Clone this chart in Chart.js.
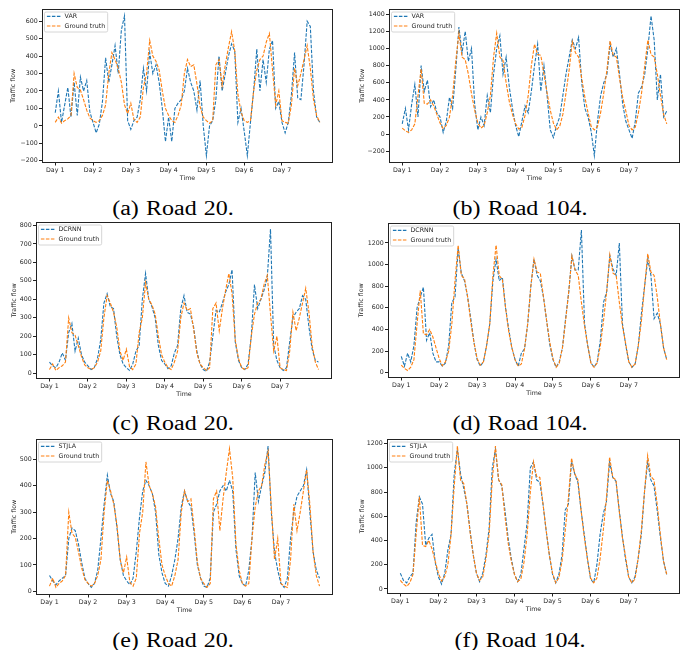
<!DOCTYPE html>
<html>
<head>
<meta charset="utf-8">
<script src="https://cdn.jsdelivr.net/npm/chart.js@4.4.0/dist/chart.umd.min.js"></script>
<style>
  body { margin: 0; background: #fff; }
  #fig { position: relative; width: 685px; height: 650px; overflow: hidden; }
  .panel { position: absolute; }
  .caption {
    position: absolute;
    font-family: 'Liberation Serif', 'Times New Roman', serif;
    font-size: 20px;
    line-height: 20px;
    word-spacing: 1px;
    transform: translateX(-50%) scaleX(1.2);
    white-space: nowrap;
    color: #000;
  }
</style>
</head>
<body>
<div id="fig"></div>
<script>
// samples per day (one every 2 hours), x runs from Day 1 (0) to 7
const PER_DAY = 12;
const dayTicks = [0, 1, 2, 3, 4, 5, 6];
const dayLabels = ['Day 1', 'Day 2', 'Day 3', 'Day 4', 'Day 5', 'Day 6', 'Day 7'];

// Road 20
const road20Truth = [
  20, 50, 15, 30, 40, 60, 300, 220, 205, 150, 90, 45,
  30, 20, 30, 60, 120, 300, 420, 380, 330, 250, 120, 70,
  130, 35, 20, 50, 220, 300, 490, 400, 370, 320, 200, 100,
  60, 30, 20, 60, 120, 300, 380, 340, 350, 240, 110, 50,
  30, 15, 30, 350, 380, 230, 350, 450, 540, 430, 180, 80,
  30, 20, 30, 200, 320, 380, 400, 480, 530, 320, 120, 200,
  30, 20, 15, 120, 330, 230, 300, 380, 460, 330, 150, 60,
  20
];
const road20Var = [
  75, 200, 20, 120, 220, 50, 250, 60, 280, 200, 260, 80,
  20, -40, 10, 140, 390, 250, 350, 460, 300, 550, 630, 30,
  -20, 30, 50, 150, 330, 200, 420, 300, 350, 250, 100, -90,
  50, -90, 100, 130, 150, 200, 330, 250, 200, 90, 260, 0,
  -170, 0, 30, 150, 400, 200, 300, 400, 470, 430, 20, 100,
  -30, -170, 20, 200, 440, 200, 380, 250, 440, 490, 100, 140,
  20, -40, 20, 180, 420, 160, 150, 350, 600, 570, 200, 50,
  20
];
const road20Dcrnn = [
  60, 40, 30, 60, 110, 70, 220, 270, 120, 190, 100, 60,
  40, 20, 30, 80, 180, 380, 430, 360, 350, 200, 100, 50,
  30, 15, 50, 120, 150, 400, 540, 400, 360, 300, 150, 70,
  50, 25, 40, 110, 150, 350, 420, 330, 320, 250, 120, 50,
  20, 10, 60, 200, 340, 330, 380, 440, 480, 560, 170, 70,
  30, 20, 50, 200, 480, 350, 400, 450, 520, 780, 150, 70,
  30, 15, 30, 170, 300, 330, 350, 420, 400, 250, 130, 70,
  60
];
const road20Stjla = [
  60, 40, 25, 40, 50, 60, 200, 240, 230, 180, 110, 50,
  30, 15, 30, 80, 200, 330, 440, 370, 340, 240, 120, 60,
  40, 25, 50, 150, 280, 380, 420, 400, 370, 300, 140, 70,
  30, 20, 60, 120, 200, 320, 380, 340, 320, 220, 100, 50,
  20, 15, 50, 300, 330, 380, 400, 380, 420, 380, 160, 60,
  30, 20, 80, 200, 450, 340, 400, 450, 550, 300, 150, 80,
  30, 15, 50, 200, 300, 360, 380, 400, 460, 300, 150, 80,
  50
];

// Road 104
const road104Truth = [
  70, 40, 20, 50, 120, 450, 760, 360, 350, 400, 330, 230,
  130, 65, 100, 200, 450, 850, 1180, 900, 870, 700, 470, 280,
  130, 70, 100, 250, 450, 900, 1180, 900, 860, 600, 380, 230,
  120, 60, 80, 220, 450, 800, 1050, 930, 920, 700, 480, 280,
  130, 50, 90, 230, 480, 750, 1080, 950, 900, 650, 430, 250,
  90, 50, 90, 250, 480, 750, 1090, 920, 900, 650, 430, 270,
  100, 50, 80, 250, 480, 800, 1100, 930, 900, 700, 450, 230,
  120
];
const road104Var = [
  120, 300, 50, 350, 580, 200, 800, 500, 630, 320, 400, 250,
  200, 20, 150, 430, 300, 750, 1250, 950, 1200, 850, 1000, 350,
  50, 200, 100, 450, 250, 700, 1000, 1150, 700, 900, 550, 300,
  100, -30, 150, 330, 250, 500, 800, 1050, 500, 800, 450, 50,
  -40, 100, 200, 450, 700, 900, 1100, 1000, 1130, 600, 300, 200,
  30, -250, 150, 450, 600, 700, 1050, 900, 1000, 700, 350, 150,
  50, -50, 150, 480, 550, 700, 1000, 1380, 1100, 400, 700, 200,
  270
];
const road104Dcrnn = [
  150, 60, 180, 100, 250, 600, 700, 790, 300, 370, 180, 100,
  100, 60, 90, 250, 650, 700, 1150, 920, 850, 700, 500, 280,
  120, 60, 100, 250, 450, 850, 1050, 850, 880, 600, 400, 230,
  120, 60, 180, 220, 450, 800, 1050, 900, 850, 700, 480, 260,
  120, 50, 100, 230, 500, 750, 1080, 950, 950, 1320, 450, 250,
  90, 50, 100, 300, 650, 750, 1080, 960, 900, 1200, 450, 260,
  100, 50, 80, 250, 550, 800, 1050, 900, 500, 550, 450, 230,
  120
];
const road104Stjla = [
  130, 70, 50, 100, 130, 550, 760, 700, 360, 420, 450, 220,
  100, 40, 130, 320, 450, 950, 1150, 950, 830, 700, 480, 280,
  130, 60, 130, 280, 500, 1000, 1150, 900, 850, 650, 420, 250,
  120, 60, 120, 330, 550, 1000, 1050, 900, 880, 700, 480, 280,
  120, 50, 120, 280, 650, 700, 1050, 950, 880, 650, 450, 250,
  80, 50, 200, 450, 620, 720, 1050, 920, 890, 660, 440, 250,
  100, 50, 100, 250, 450, 800, 1050, 900, 850, 650, 430, 230,
  120
];

// y tick labels
const yTicksA = [-200, -100, 0, 100, 200, 300, 400, 500, 600];
const yTicksB = [-200, 0, 200, 400, 600, 800, 1000, 1200, 1400];
const yTicksC = [0, 100, 200, 300, 400, 500, 600, 700, 800];
const yTicksD = [0, 200, 400, 600, 800, 1000, 1200];
const yTicksE = [0, 100, 200, 300, 400, 500];
const yTicksF = [0, 200, 400, 600, 800, 1000, 1200];

const BLUE = '#1f77b4';
const ORANGE = '#ff7f0e';
const TEXT = '#262626';
const FONT = { family: 'DejaVu Sans', size: 6.3 };

// plot box = [left, top, right, bottom] of the axes frame, titleX = y-title centre
const panels = [
  { caption: '(a) Road 20.', model: 'VAR', pred: road20Var, truth: road20Truth, yTicks: yTicksA, box: [42, 9, 333, 162], titleX: 14, capX: 172.5, capY: 207.5 },
  { caption: '(b) Road 104.', model: 'VAR', pred: road104Var, truth: road104Truth, yTicks: yTicksB, box: [389, 9, 680, 162], titleX: 363, capX: 520, capY: 207.5 },
  { caption: '(c) Road 20.', model: 'DCRNN', pred: road20Dcrnn, truth: road20Truth, yTicks: yTicksC, box: [36, 222, 332, 378], titleX: 15, capX: 172.5, capY: 423 },
  { caption: '(d) Road 104.', model: 'DCRNN', pred: road104Dcrnn, truth: road104Truth, yTicks: yTicksD, box: [388, 223, 680, 377], titleX: 362, capX: 520, capY: 423 },
  { caption: '(e) Road 20.', model: 'STJLA', pred: road20Stjla, truth: road20Truth, yTicks: yTicksE, box: [36, 439, 333, 594], titleX: 15, capX: 172.5, capY: 639.5 },
  { caption: '(f) Road 104.', model: 'STJLA', pred: road104Stjla, truth: road104Truth, yTicks: yTicksF, box: [387, 439, 680, 593], titleX: 363, capX: 520, capY: 639.5 }
];

const frame = {
  id: 'frame',
  afterDatasetsDraw(chart) {
    const { ctx, chartArea: a } = chart;
    ctx.save();
    ctx.strokeStyle = '#222';
    ctx.lineWidth = 1;
    ctx.strokeRect(Math.round(a.left) + 0.5, Math.round(a.top) + 0.5,
      Math.round(a.right - a.left) - 1, Math.round(a.bottom - a.top) - 1);
    ctx.restore();
  }
};

const insideLegend = {
  id: 'insideLegend',
  afterDraw(chart, args, opts) {
    const { ctx, chartArea } = chart;
    const items = opts.items || [];
    ctx.save();
    ctx.font = FONT.size + 'px "' + FONT.family + '"';
    const textW = Math.max(...items.map(it => ctx.measureText(it.text).width));
    const x0 = chartArea.left + 2.5, y0 = chartArea.top + 3;
    const w = 20 + textW + 2.5, h = 20;
    ctx.beginPath();
    ctx.roundRect(x0, y0, w, h, 1.5);
    ctx.fillStyle = 'rgba(255,255,255,0.8)';
    ctx.fill();
    ctx.strokeStyle = '#cccccc';
    ctx.lineWidth = 0.8;
    ctx.stroke();
    items.forEach((it, i) => {
      const y = y0 + 4.3 + i * 9.7;
      ctx.setLineDash([3.5, 1.5]);
      ctx.strokeStyle = it.color;
      ctx.lineWidth = 1.2;
      ctx.beginPath();
      ctx.moveTo(x0 + 2.4, y);
      ctx.lineTo(x0 + 16.7, y);
      ctx.stroke();
      ctx.setLineDash([]);
      ctx.fillStyle = TEXT;
      ctx.textBaseline = 'middle';
      ctx.fillText(it.text, x0 + 20, y);
    });
    ctx.restore();
  }
};

const fmt = v => (v < 0 ? '\u2212' + Math.abs(v) : String(v));
const toPoints = arr => arr.map((v, i) => ({ x: i / PER_DAY, y: v }));

const fig = document.getElementById('fig');

panels.forEach(p => {
  const [L, T, R, B] = p.box;
  const left = p.titleX - 4, top = T - 6;
  const width = R + 4 - left, height = B + 19.5 - top;

  const div = document.createElement('div');
  div.className = 'panel';
  div.style.left = left + 'px';
  div.style.top = top + 'px';
  const canvas = document.createElement('canvas');
  canvas.width = width;
  canvas.height = Math.ceil(height);
  div.appendChild(canvas);
  fig.appendChild(div);

  const cap = document.createElement('div');
  cap.className = 'caption';
  cap.textContent = p.caption;
  cap.style.left = p.capX + 'px';
  cap.style.top = (p.capY - 10) + 'px';
  fig.appendChild(cap);

  // matplotlib-style 5% margins around the data
  const all = p.pred.concat(p.truth);
  const lo = Math.min(...all), hi = Math.max(...all);
  const yPad = (hi - lo) * 0.05;
  const xMax = (p.truth.length - 1) / PER_DAY;

  new Chart(canvas, {
    type: 'line',
    data: {
      datasets: [
        { label: 'Ground truth', data: toPoints(p.truth), borderColor: ORANGE },
        { label: p.model, data: toPoints(p.pred), borderColor: BLUE }
      ]
    },
    options: {
      responsive: false,
      animation: false,
      events: [],
      layout: { padding: { top: 6, right: 4, left: 0, bottom: 0 } },
      elements: {
        line: { borderWidth: 1.1, borderDash: [3.5, 1.5], tension: 0, fill: false },
        point: { radius: 0 }
      },
      scales: {
        x: {
          type: 'linear',
          min: -0.05 * xMax,
          max: xMax * 1.05,
          afterBuildTicks: s => { s.ticks = dayTicks.map(v => ({ value: v })); },
          afterFit: s => { s.height = 19.5; },
          ticks: { font: FONT, color: TEXT, padding: 1, autoSkip: false, maxRotation: 0,
                   callback: (v, i) => dayLabels[i] },
          grid: { drawOnChartArea: false, drawTicks: true, tickLength: 3, color: '#222' },
          border: { display: false },
          title: { display: true, text: 'Time', font: FONT, color: TEXT, padding: 0 }
        },
        y: {
          type: 'linear',
          min: lo - yPad,
          max: hi + yPad,
          afterBuildTicks: s => { s.ticks = p.yTicks.map(v => ({ value: v })); },
          afterFit: s => { s.width = L - left; },
          ticks: { font: FONT, color: TEXT, padding: 1.3, autoSkip: false, callback: v => fmt(v) },
          grid: { drawOnChartArea: false, drawTicks: true, tickLength: 3, color: '#222' },
          border: { display: false },
          title: { display: true, text: 'Traffic flow', font: FONT, color: TEXT, padding: 0 }
        }
      },
      plugins: {
        legend: { display: false },
        tooltip: { enabled: false },
        insideLegend: { items: [{ text: p.model, color: BLUE }, { text: 'Ground truth', color: ORANGE }] }
      }
    },
    plugins: [frame, insideLegend]
  });
});
</script>
</body>
</html>
